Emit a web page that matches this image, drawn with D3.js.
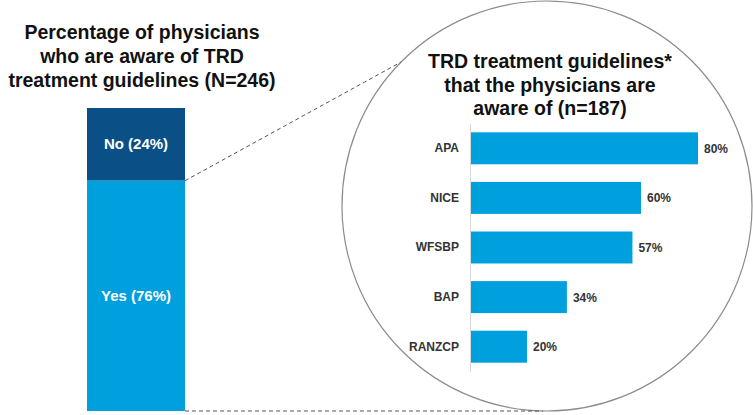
<!DOCTYPE html>
<html><head><meta charset="utf-8">
<script src="https://cdn.jsdelivr.net/npm/d3@7"></script>
<style>body{margin:0;background:#fff}svg{display:block;font-family:"Liberation Sans",Arial,sans-serif}</style>
</head><body><svg id="c" width="753" height="415"></svg>
<script>
const awareCategories = ["No", "Yes"];
const awareValues = [24, 76];
const guidelineCategories = ["APA", "NICE", "WFSBP", "BAP", "RANZCP"];
const guidelineValues = [80, 60, 57, 34, 20];
const leftTitle = ["Percentage of physicians", "who are aware of TRD", "treatment guidelines (N=246)"];
const rightTitle = ["TRD treatment guidelines*", "that the physicians are", "aware of (n=187)"];

const svg = d3.select("#c");
const blue = "#00a0df", dark = "#0a4f86";

// Left stacked bar
const yL = d3.scaleLinear().domain([0, 100]).range([411, 108]);
const xL0 = 87, xL1 = 185;
let cum = 100;
const stack = [];
awareCategories.forEach((c, i) => {
  const top = cum, bottom = cum - awareValues[i];
  stack.push({c, v: awareValues[i], top, bottom});
  cum = bottom;
});
svg.selectAll("rect.stk").data(stack).join("rect")
  .attr("x", xL0).attr("width", xL1 - xL0)
  .attr("y", d => yL(d.top)).attr("height", d => yL(d.bottom) - yL(d.top))
  .attr("fill", d => d.c === "No" ? dark : blue);
svg.selectAll("text.stk").data(stack).join("text")
  .attr("x", (xL0 + xL1) / 2).attr("y", d => (yL(d.top) + yL(d.bottom)) / 2 + 5)
  .attr("text-anchor", "middle").attr("fill", "#fff")
  .attr("font-size", 15).attr("font-weight", "bold")
  .text(d => `${d.c} (${d.v}%)`);

// Titles
svg.append("g").selectAll("text").data(leftTitle).join("text")
  .attr("x", 142).attr("y", (d, i) => 39 + i * 24)
  .attr("text-anchor", "middle").attr("font-size", 19.5).attr("font-weight", "bold").attr("fill", "#111")
  .text(d => d);

// Circle
const cx = 547, cy = 206, r = 205;
svg.append("circle").attr("cx", cx).attr("cy", cy).attr("r", r)
  .attr("fill", "none").attr("stroke", "#8c8c8c").attr("stroke-width", 1.2);

// Dashed connectors
const noTop = yL(awareValues[1]);
const ang = Math.asin((cy - 62) / r);
svg.append("line").attr("x1", xL1).attr("y1", noTop)
  .attr("x2", cx - r * Math.cos(ang)).attr("y2", 62)
  .attr("stroke", "#555").attr("stroke-dasharray", "4,3").attr("stroke-width", 1);
svg.append("line").attr("x1", xL1).attr("y1", yL(0))
  .attr("x2", cx - 4).attr("y2", yL(0))
  .attr("stroke", "#555").attr("stroke-dasharray", "4,3").attr("stroke-width", 1);

svg.append("g").selectAll("text").data(rightTitle).join("text")
  .attr("x", 550).attr("y", (d, i) => 68 + i * 23.5)
  .attr("text-anchor", "middle").attr("font-size", 19.5).attr("font-weight", "bold").attr("fill", "#111")
  .text(d => d);

// Right bar chart
const x = d3.scaleLinear().domain([0, 100]).range([470, 755]);
const y = d3.scaleBand().domain(guidelineCategories).range([123.5, 371.5])
  .paddingInner(0.355).paddingOuter(0.1775);
svg.selectAll("rect.g").data(guidelineCategories).join("rect")
  .attr("x", x(0)).attr("y", d => y(d)).attr("height", y.bandwidth())
  .attr("width", (d, i) => x(guidelineValues[i]) - x(0)).attr("fill", blue);
svg.selectAll("text.v").data(guidelineCategories).join("text")
  .attr("x", (d, i) => x(guidelineValues[i]) + 6).attr("y", d => y(d) + y.bandwidth() / 2 + 4.5)
  .attr("font-size", 12).attr("font-weight", "bold").attr("fill", "#333")
  .text((d, i) => guidelineValues[i] + "%");
const ax = svg.append("g").attr("transform", `translate(${x(0)},0)`)
  .call(d3.axisLeft(y).tickSize(0).tickPadding(11));
ax.select(".domain").attr("stroke", "#d9d9d9").attr("stroke-width", 1);
ax.selectAll("text").attr("font-size", 12).attr("font-weight", "bold").attr("fill", "#333")
  .attr("font-family", "Liberation Sans, Arial, sans-serif");
</script></body></html>
